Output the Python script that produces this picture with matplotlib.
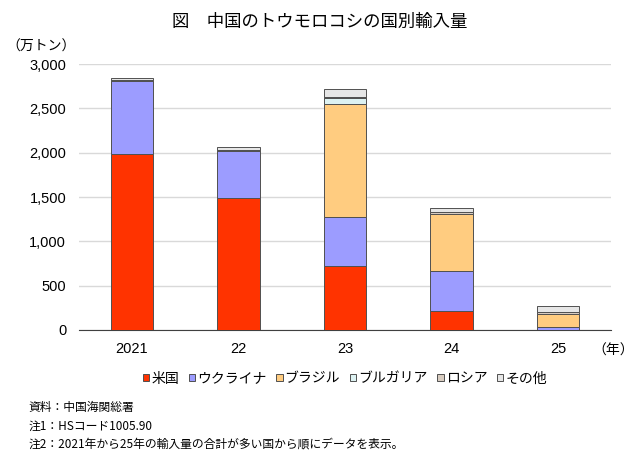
import matplotlib.pyplot as plt
import numpy as np

plt.rcParams['font.family'] = ['Noto Sans CJK JP', 'DejaVu Sans']

years = ['2021', '22', '23', '24', '25']
us = [1985, 1489, 722, 214, 3]
ukraine = [823, 529, 556, 448, 27]
brazil = [0, 0, 1271, 643, 150]
bulgaria = [0, 0, 64, 0, 0]
russia = [12, 12, 20, 25, 25]
other = [20, 30, 82, 42, 65]

series = [
    ('米国', us, '#FF3300'),
    ('ウクライナ', ukraine, '#9C9CFF'),
    ('ブラジル', brazil, '#FFCC80'),
    ('ブルガリア', bulgaria, '#DDF2F2'),
    ('ロシア', russia, '#D8CCC0'),
    ('その他', other, '#E6E6E6'),
]

fig = plt.figure(figsize=(6.4, 4.62), dpi=100)
ax = fig.add_axes([0.123, 0.286, 0.832, 0.575])

x = np.arange(len(years))
bottom = np.zeros(len(years))
for name, vals, col in series:
    ax.bar(x, vals, 0.40, bottom=bottom, color=col, edgecolor='#505050',
           linewidth=0.7, label=name, zorder=3)
    bottom += np.array(vals)

ax.set_xlim(-0.5, len(years) - 0.5)
ax.set_ylim(0, 3000)
ax.set_yticks(range(0, 3001, 500))
ax.set_yticklabels([f'{v:,}' for v in range(0, 3001, 500)], fontsize=10.5,
                   family='Liberation Sans')
ax.set_xticks(x)
ax.set_xticklabels(years, fontsize=10.5, family='Liberation Sans')
ax.grid(axis='y', color='#D9D9D9', linewidth=1, zorder=0)
for s in ['top', 'right', 'left']:
    ax.spines[s].set_visible(False)
ax.spines['bottom'].set_color('#404040')
ax.tick_params(axis='both', length=0, pad=9)

fig.text(0.5, 0.952, '図　中国のトウモロコシの国別輸入量', ha='center', va='center',
         fontsize=12.5)
fig.text(0.01, 0.900, '（万トン）', ha='left', va='center', fontsize=10)
fig.text(0.925, 0.240, '（年）', ha='left', va='center', fontsize=10)

ax.legend(loc='upper center', bbox_to_anchor=(0.5, -0.11), ncol=6, frameon=False,
          fontsize=10, handlelength=0.45, handleheight=0.45, handletextpad=0.15,
          columnspacing=0.7)

notes = ['資料：中国海関総署', '注1：HSコード1005.90',
         '注2：2021年から25年の輸入量の合計が多い国から順にデータを表示。']
for i, t in enumerate(notes):
    fig.text(0.045, 0.118 - i * 0.040, t, ha='left', va='center', fontsize=8.5)

fig.savefig('out.png', dpi=100)
